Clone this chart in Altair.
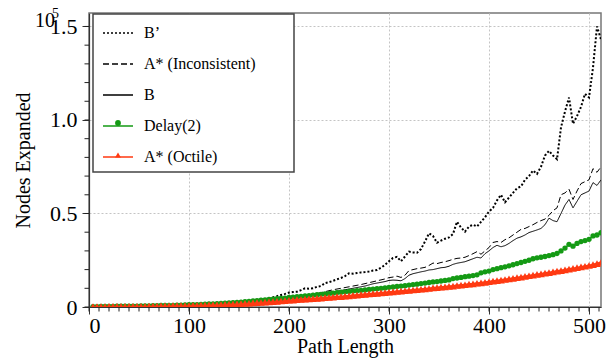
import altair as alt
import pandas as pd

# ---------------- data (values in units of 10^5 nodes) ----------------
path_length = list(range(4, 516, 4))

b_prime = [
    0.002,0.002,0.002,0.003,0.003,0.003,0.003,0.004,0.004,0.004,
    0.005,0.005,0.005,0.006,0.006,0.007,0.007,0.008,0.008,0.009,
    0.009,0.010,0.011,0.011,0.012,0.013,0.013,0.014,0.015,0.016,
    0.017,0.018,0.019,0.020,0.021,0.023,0.024,0.026,0.028,0.030,
    0.033,0.036,0.038,0.042,0.047,0.052,0.058,0.064,0.070,0.077,
    0.080,0.082,0.090,0.100,0.098,0.100,0.108,0.112,0.128,0.133,
    0.140,0.148,0.155,0.165,0.180,0.178,0.182,0.185,0.187,0.190,
    0.195,0.198,0.210,0.225,0.245,0.262,0.268,0.245,0.270,0.296,
    0.292,0.290,0.310,0.350,0.394,0.380,0.344,0.355,0.365,0.372,
    0.390,0.456,0.425,0.403,0.430,0.440,0.430,0.455,0.480,0.510,
    0.530,0.570,0.600,0.560,0.585,0.610,0.635,0.645,0.680,0.700,
    0.730,0.712,0.750,0.810,0.835,0.810,0.790,0.960,1.045,1.120,
    0.980,1.020,1.070,1.140,1.120,1.280,1.500,1.430,
]

a_inconsistent = [
    0.002,0.002,0.003,0.003,0.003,0.003,0.004,0.004,0.004,0.004,
    0.005,0.005,0.005,0.006,0.006,0.007,0.007,0.007,0.008,0.008,
    0.009,0.010,0.010,0.011,0.011,0.012,0.013,0.013,0.014,0.015,
    0.016,0.017,0.018,0.019,0.020,0.022,0.023,0.025,0.026,0.028,
    0.030,0.032,0.034,0.036,0.038,0.040,0.042,0.044,0.047,0.050,
    0.052,0.054,0.057,0.060,0.064,0.068,0.072,0.077,0.082,0.087,
    0.092,0.096,0.100,0.104,0.108,0.112,0.116,0.120,0.125,0.130,
    0.135,0.140,0.145,0.150,0.157,0.160,0.165,0.158,0.170,0.195,
    0.200,0.205,0.208,0.212,0.222,0.235,0.232,0.238,0.242,0.248,
    0.255,0.260,0.262,0.266,0.275,0.285,0.296,0.282,0.300,0.318,
    0.345,0.350,0.345,0.360,0.370,0.385,0.400,0.415,0.420,0.430,
    0.440,0.452,0.462,0.470,0.490,0.515,0.530,0.600,0.610,0.630,
    0.575,0.620,0.660,0.670,0.680,0.740,0.720,0.750,
]

b_solid = [
    0.002,0.002,0.002,0.003,0.003,0.003,0.003,0.004,0.004,0.004,
    0.005,0.005,0.005,0.006,0.006,0.006,0.007,0.007,0.008,0.008,
    0.009,0.009,0.010,0.010,0.011,0.012,0.012,0.013,0.014,0.015,
    0.016,0.017,0.018,0.019,0.020,0.021,0.022,0.024,0.025,0.027,
    0.028,0.030,0.032,0.033,0.035,0.037,0.039,0.041,0.043,0.045,
    0.047,0.049,0.052,0.055,0.058,0.062,0.066,0.070,0.075,0.080,
    0.082,0.085,0.088,0.092,0.096,0.100,0.104,0.108,0.112,0.118,
    0.124,0.128,0.132,0.136,0.142,0.144,0.143,0.140,0.152,0.170,
    0.178,0.183,0.188,0.192,0.198,0.200,0.205,0.210,0.212,0.218,
    0.228,0.234,0.238,0.242,0.250,0.258,0.266,0.262,0.285,0.300,
    0.318,0.330,0.322,0.328,0.340,0.355,0.368,0.375,0.385,0.398,
    0.405,0.412,0.420,0.440,0.475,0.462,0.456,0.500,0.545,0.575,
    0.530,0.565,0.600,0.610,0.620,0.665,0.650,0.680,
]

delay2 = [
    0.002,0.002,0.003,0.003,0.003,0.003,0.004,0.004,0.004,0.005,
    0.005,0.005,0.006,0.006,0.006,0.007,0.007,0.008,0.008,0.009,
    0.009,0.010,0.010,0.011,0.012,0.012,0.013,0.014,0.015,0.016,
    0.017,0.018,0.019,0.020,0.022,0.023,0.025,0.026,0.028,0.030,
    0.032,0.034,0.036,0.038,0.040,0.042,0.044,0.046,0.048,0.051,
    0.053,0.055,0.057,0.059,0.061,0.064,0.066,0.068,0.070,0.072,
    0.074,0.077,0.079,0.081,0.083,0.085,0.087,0.089,0.091,0.094,
    0.096,0.098,0.100,0.102,0.105,0.107,0.110,0.112,0.114,0.117,
    0.120,0.122,0.125,0.128,0.131,0.134,0.136,0.139,0.142,0.145,
    0.152,0.155,0.158,0.162,0.165,0.168,0.172,0.183,0.188,0.192,
    0.200,0.205,0.210,0.215,0.220,0.226,0.232,0.238,0.244,0.250,
    0.258,0.263,0.266,0.270,0.275,0.280,0.286,0.300,0.315,0.335,
    0.325,0.340,0.350,0.355,0.362,0.380,0.385,0.397,
]

a_octile = [
    0.002,0.002,0.002,0.002,0.003,0.003,0.003,0.003,0.003,0.003,
    0.004,0.004,0.004,0.004,0.005,0.005,0.005,0.006,0.006,0.006,
    0.007,0.007,0.007,0.008,0.008,0.009,0.009,0.010,0.010,0.011,
    0.012,0.012,0.013,0.014,0.015,0.016,0.017,0.018,0.019,0.020,
    0.022,0.023,0.024,0.026,0.027,0.029,0.030,0.032,0.034,0.036,
    0.037,0.039,0.040,0.042,0.043,0.045,0.046,0.048,0.050,0.051,
    0.053,0.055,0.056,0.058,0.060,0.062,0.064,0.066,0.068,0.070,
    0.071,0.073,0.075,0.077,0.079,0.081,0.083,0.085,0.087,0.089,
    0.091,0.093,0.095,0.097,0.099,0.102,0.104,0.106,0.108,0.110,
    0.112,0.115,0.117,0.119,0.122,0.124,0.127,0.129,0.132,0.135,
    0.138,0.141,0.144,0.147,0.150,0.153,0.157,0.160,0.164,0.167,
    0.170,0.174,0.177,0.181,0.184,0.188,0.192,0.195,0.199,0.203,
    0.206,0.210,0.214,0.218,0.222,0.227,0.232,0.238,
]

series_names = ["B\u2019", "A* (Inconsistent)", "B", "Delay(2)", "A* (Octile)"]
series_values = [b_prime, a_inconsistent, b_solid, delay2, a_octile]
line_colors = ["#000000", "#000000", "#000000", "#149a14", "#ff3a12"]
line_dashes = [[2, 2], [6, 3], [1, 0], [1, 0], [1, 0]]
line_widths = [2, 1, 1, 1.5, 2]
marker_names = [n + " \u00b7" for n in series_names]
marker_fills = ["transparent", "transparent", "transparent", "#149a14", "#ff3a12"]
marker_shapes = ["circle", "circle", "circle", "circle", "triangle-up"]
marker_sizes = [0, 0, 0, 28, 60]

x_major = [0, 100, 200, 300, 400, 500]
x_minor = list(range(0, 520, 10))
y_major = [0, 0.5, 1.0, 1.5]
y_minor = [round(v * 0.1, 1) for v in range(0, 16)]

rows = []
for name, mname, vals, lw, ms in zip(series_names, marker_names, series_values, line_widths, marker_sizes):
    for x, v in zip(path_length, vals):
        rows.append({"x": x, "value": v, "series": name, "marker": mname, "lw": lw, "ms": ms})
df = pd.DataFrame(rows)

FONT = "Liberation Serif"
W, H = 512, 294
xscale = alt.Scale(domain=[0, 512], nice=False, zero=False)
yscale = alt.Scale(domain=[0, 1.572], nice=False)

x_enc = alt.X("x:Q", scale=xscale, axis=alt.Axis(
    values=x_major, tickSize=7, labelFontSize=22, labelPadding=1,
    title="Path Length", titleFontSize=20, titlePadding=0,
    titleFontWeight="normal", grid=True))
y_enc = alt.Y("value:Q", scale=yscale, axis=alt.Axis(
    values=y_major, tickSize=7, labelFontSize=22, labelPadding=5,
    labelExpr="datum.value == 0 ? '0' : format(datum.value, '.1f')",
    title="Nodes Expanded", titleFontSize=20, titlePadding=16,
    titleFontWeight="normal", grid=True))

line_legend = alt.Legend(
    orient="none", legendX=13, legendY=4, title=None, symbolType="stroke",
    symbolSize=900, symbolStrokeWidth=1.3, labelFontSize=16, labelFont=FONT,
    labelOffset=10, rowPadding=7, padding=0, labelColor="#000")

lines = alt.Chart(df).mark_line(clip=True).encode(
    x=x_enc, y=y_enc,
    stroke=alt.Stroke("series:N", scale=alt.Scale(domain=series_names, range=line_colors), legend=line_legend),
    strokeDash=alt.StrokeDash("series:N", scale=alt.Scale(domain=series_names, range=line_dashes), legend=line_legend),
    strokeWidth=alt.StrokeWidth("lw:Q", scale=None, legend=None),
    order="x:Q",
)

point_legend = alt.Legend(
    orient="none", legendX=21, legendY=6, title=None, symbolSize=34,
    labelFontSize=16, labelFont=FONT, labelExpr="''",
    rowPadding=16, padding=0, symbolStrokeWidth=0)

points = alt.Chart(df).mark_point(filled=True, opacity=1, strokeWidth=0, clip=True).encode(
    x=alt.X("x:Q", scale=xscale), y=alt.Y("value:Q", scale=yscale),
    fill=alt.Fill("marker:N", scale=alt.Scale(domain=marker_names, range=marker_fills), legend=point_legend),
    shape=alt.Shape("marker:N", scale=alt.Scale(domain=marker_names, range=marker_shapes), legend=point_legend),
    size=alt.Size("ms:Q", scale=None, legend=None),
)

box = alt.Chart(pd.DataFrame({"a": [0]})).mark_rect(
    fill="white", stroke="#444", strokeWidth=1.5).encode(
    x=alt.value(4), x2=alt.value(205), y=alt.value(1), y2=alt.value(159))

xminor = alt.Chart(pd.DataFrame({"t": x_minor})).mark_rule(color="#222", strokeWidth=1).encode(
    x=alt.X("t:Q", scale=xscale), y=alt.value(H), y2=alt.value(H + 4.5))
yminor = alt.Chart(pd.DataFrame({"t": y_minor})).mark_rule(color="#222", strokeWidth=1).encode(
    y=alt.Y("t:Q", scale=yscale), x=alt.value(-4.5), x2=alt.value(0))

exp_base = alt.Chart(pd.DataFrame({"a": [0]})).mark_text(
    font=FONT, fontSize=20, align="left", baseline="alphabetic", color="#000").encode(
    x=alt.value(-54), y=alt.value(14), text=alt.value("10"))
exp_pow = alt.Chart(pd.DataFrame({"a": [0]})).mark_text(
    font=FONT, fontSize=14, align="left", baseline="alphabetic", color="#000").encode(
    x=alt.value(-37), y=alt.value(5), text=alt.value("5"))

chart = alt.layer(box, lines, points, xminor, yminor, exp_base, exp_pow).properties(
    width=W, height=H,
    autosize=alt.AutoSizeParams(type="none"),
    padding={"left": 89, "top": 13, "right": 12, "bottom": 55},
    background="white",
).configure_view(
    stroke="#777", strokeWidth=1.5
).configure_axis(
    labelFont=FONT, titleFont=FONT, labelColor="#000", titleColor="#000",
    domainColor="#333", domainWidth=1.2, tickColor="#333", tickWidth=1,
    gridColor="#c4c4c4", gridDash=[2, 2], gridWidth=1,
).configure_legend(
    labelFont=FONT
)

chart.save("out.html", embed_options={"renderer": "svg", "actions": False})
